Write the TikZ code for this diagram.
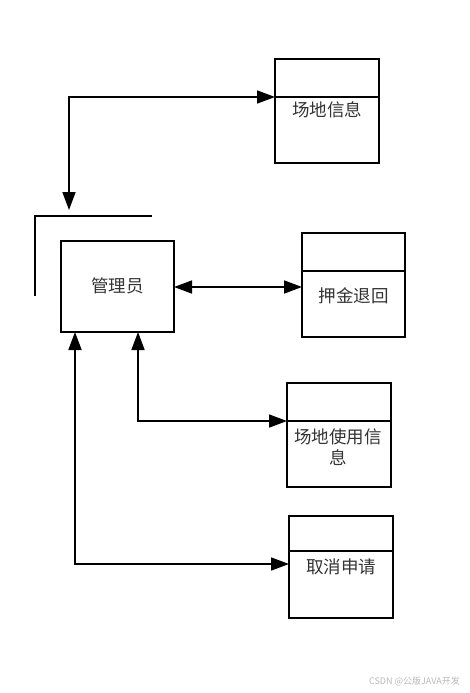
\documentclass[tikz,border=0pt]{standalone}
\usepackage{fontspec}
\newfontfamily\cjk{Noto Sans CJK SC}
\usetikzlibrary{arrows.meta}
\begin{document}
\begin{tikzpicture}[x=1pt,y=-1pt,
  box/.style={draw,line width=1.6pt,minimum width=0pt,inner sep=0pt},
  lbl/.style={font=\cjk\fontsize{17.5}{21}\selectfont,text=black!80,inner sep=0pt,align=center},
  conn/.style={line width=1.6pt,{Triangle[length=18pt,width=13pt]}-{Triangle[length=18pt,width=13pt]}},
  wmark/.style={font=\cjk\fontsize{9}{11}\selectfont,text=black!28,inner sep=0pt}]
\useasboundingbox (0,0) rectangle (469,693);
% store boxes
\draw[box] (275,59) rectangle (379,163);
\coordinate (infoW) at (275,97);
\draw[line width=1.6pt] (275,97) -- (379,97);
\node[lbl] (infoT) at (327,110) {场地信息};

\draw[box] (302,233) rectangle (405,337);
\coordinate (depW) at (302,287);
\draw[line width=1.6pt] (302,271) -- (405,271);
\node[lbl] (depT) at (353.5,296) {押金退回};

\draw[box] (287,383) rectangle (391,487);
\coordinate (useW) at (287,421);
\draw[line width=1.6pt] (287,421) -- (391,421);
\node[lbl] (useT) at (338,447.5) {场地使用信\\息};

\draw[box] (289,516) rectangle (393,618);
\coordinate (canW) at (289,564);
\draw[line width=1.6pt] (289,551) -- (393,551);
\node[lbl] (canT) at (341,567) {取消申请};

% external entity
\draw[box] (61,241) rectangle (174,332);
\node[lbl] (adminT) at (117.5,286) {管理员};
\coordinate (adminE) at (174,287);
\coordinate (adminB1) at (75,332);
\coordinate (adminB2) at (138,332);
\draw[line width=1.6pt] (35,296) -- (35,216) -- (152,216);
\coordinate (bracketTop) at (69,210);

% connectors
\draw[conn] (bracketTop) |- (infoW);
\draw[conn] (adminE) -- (depW);
\draw[conn] (adminB2) |- (useW);
\draw[conn] (adminB1) |- (canW);

\node[wmark,anchor=east] (wm) at (460,681) {CSDN @公版JAVA开发};
\end{tikzpicture}
\end{document}
